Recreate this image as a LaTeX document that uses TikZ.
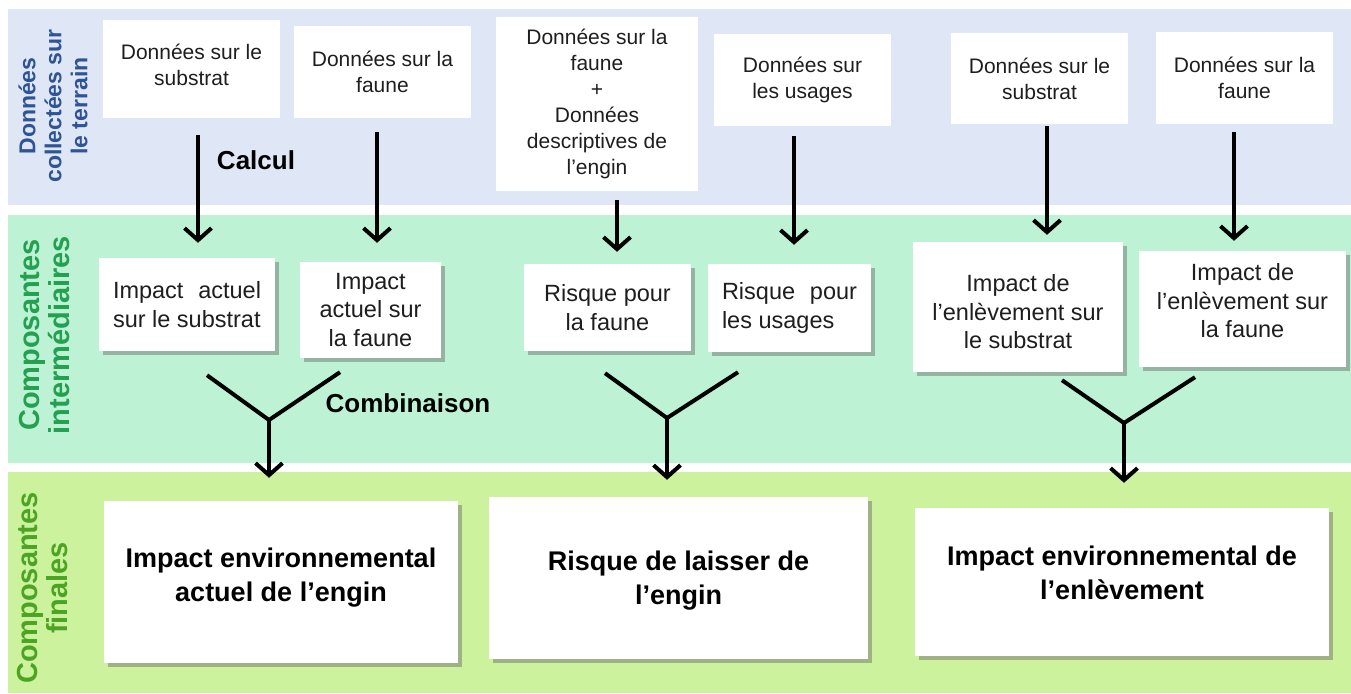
\documentclass[tikz,border=0pt]{standalone}
\usepackage{fontspec}
\setmainfont{Liberation Sans}
\usetikzlibrary{arrows.meta,shadows,calc}
\definecolor{bandA}{RGB}{223,230,245}
\definecolor{bandB}{RGB}{189,243,212}
\definecolor{bandC}{RGB}{205,242,157}
\definecolor{labA}{RGB}{47,84,150}
\definecolor{labB}{RGB}{35,160,80}
\definecolor{labC}{RGB}{75,165,35}
\definecolor{txt}{RGB}{30,30,30}
\begin{document}
\begin{tikzpicture}[x=1pt,y=-1pt,
  lab/.style={rotate=90, align=center, inner sep=0pt},
  topbox/.style={fill=white, inner sep=0pt, align=center, text=txt, font=\fontsize{21}{26}\selectfont},
  midbox/.style={fill=white, inner sep=0pt, align=center, text=txt, font=\fontsize{23.5}{28.5}\selectfont,
    drop shadow={shadow xshift=4pt, shadow yshift=-4pt, fill=black!60, opacity=0.45}},
  finbox/.style={fill=white, inner sep=0pt, align=center, text=black, font=\bfseries\fontsize{27}{34}\selectfont,
    drop shadow={shadow xshift=4pt, shadow yshift=-4pt, fill=black!60, opacity=0.45}},
  midtxt/.style={align=center, inner sep=0pt, text=txt, font=\fontsize{23.5}{28.5}\selectfont},
  fintxt/.style={align=center, inner sep=0pt, text=black, font=\bfseries\fontsize{27}{34}\selectfont},
  toptxt/.style={align=center, inner sep=0pt, text=txt, font=\fontsize{21}{26}\selectfont},
  arr/.style={line width=4pt, -{Straight Barb[length=12pt,width=27pt]}},
  yarm/.style={line width=4pt, line join=miter},
  note/.style={font=\bfseries\fontsize{26}{30}\selectfont, text=black, inner sep=0pt}
]
\useasboundingbox (0,0) rectangle (1351,693);
% bands
\fill[bandA] (8,9) rectangle (1351,205);
\fill[bandB] (8,215) rectangle (1351,463);
\fill[bandC] (8,472) rectangle (1351,693);
% side labels
\node[lab, text=labA, font=\bfseries\fontsize{23}{26}\selectfont] (L1) at (53,106) {Données\\collectées sur\\le terrain};
\node[lab, text=labB, font=\bfseries\fontsize{29}{30}\selectfont] (L2) at (45,335) {Composantes\\intermédiaires};
\node[lab, text=labC, font=\bfseries\fontsize{29}{30}\selectfont] (L3) at (43,588) {Composantes\\finales};
% top row
\node[topbox, minimum width=177, minimum height=98,
  label={[toptxt, yshift=4pt]center:{Données sur le\\substrat}}] (t1) at (191.5,69) {};
\node[topbox, minimum width=177, minimum height=92] (t2) at (382.5,72) {Données sur la\\faune};
\node[topbox, minimum width=202, minimum height=174] (t3) at (597,104) {Données sur la\\faune\\+\\Données\\descriptives de\\l’engin};
\node[topbox, minimum width=177, minimum height=92] (t4) at (802.5,80) {Données sur\\les usages};
\node[topbox, minimum width=177, minimum height=91] (t5) at (1039.5,78.5) {Données sur le\\substrat};
\node[topbox, minimum width=177, minimum height=92] (t6) at (1244.5,78) {Données sur la\\faune};
% middle row
\node[midbox, align=left, minimum width=176, minimum height=93] (m1) at (187,304.5) {\makebox[148pt][s]{Impact actuel}\\sur le substrat};
\node[midbox, minimum width=141, minimum height=96] (m2) at (370.5,310) {Impact\\actuel sur\\la faune};
\node[midbox, minimum width=167, minimum height=87] (m3) at (607.5,307.5) {Risque pour\\la faune};
\node[midbox, align=left, minimum width=163, minimum height=88] (m4) at (789.5,308) {\makebox[135pt][s]{Risque pour}\\les usages};
\node[midbox, minimum width=210, minimum height=130,
  label={[midtxt, yshift=-5pt]center:{Impact de\\l’enlèvement sur\\le substrat}}] (m5) at (1018,307) {};
\node[midbox, minimum width=207, minimum height=116,
  label={[midtxt, yshift=8pt]center:{Impact de\\l’enlèvement sur\\la faune}}] (m6) at (1242.5,309) {};
% final row
\node[finbox, minimum width=354, minimum height=162,
  label={[fintxt, yshift=4pt]center:{Impact environnemental\\actuel de l’engin}}] (b1) at (281,582) {};
\node[finbox, minimum width=379, minimum height=162,
  label={[fintxt, yshift=-3pt]center:{Risque de laisser de\\l’engin}}] (b2) at (678.5,578) {};
\node[finbox, minimum width=414, minimum height=148,
  label={[fintxt, yshift=9pt]center:{Impact environnemental de\\l’enlèvement}}] (b3) at (1122,582) {};
% notes
\node[note] (calc) at (256,160) {Calcul};
\node[note] (comb) at (408,403) {Combinaison};
% arrows top -> middle
\draw[arr, shorten <=17pt, shorten >=15pt] ([xshift=6.5pt]t1.south) -- ([xshift=11pt]m1.north);
\draw[arr, shorten <=14pt, shorten >=19pt] ([xshift=-5.5pt]t2.south) -- ([xshift=6.5pt]m2.north);
\draw[arr, shorten <=9pt, shorten >=12pt] ([xshift=20pt]t3.south) -- ([xshift=9.5pt]m3.north);
\draw[arr, shorten <=10pt, shorten >=19pt] ([xshift=-8.5pt]t4.south) -- ([xshift=4.5pt]m4.north);
\draw[arr, shorten <=2pt, shorten >=7pt] ([xshift=7.5pt]t5.south) -- ([xshift=29pt]m5.north);
\draw[arr, shorten <=8pt, shorten >=10pt] ([xshift=-10.5pt]t6.south) -- ([xshift=-8.5pt]m6.north);
% combiners
\coordinate (J1) at (269,420);
\coordinate (J2) at (667,418);
\coordinate (J3) at (1124,423);
\draw[yarm] ([xshift=20pt,yshift=-24pt]m1.south) -- (J1) -- ([xshift=-30.5pt,yshift=-14pt]m2.south);
\draw[yarm] ([xshift=-2.5pt,yshift=-22pt]m3.south) -- (J2) -- ([xshift=-51.5pt,yshift=-20pt]m4.south);
\draw[yarm] ([xshift=44pt,yshift=-8pt]m5.south) -- (J3) -- ([xshift=-47.5pt,yshift=-10pt]m6.south);
\draw[arr, shorten >=23pt] ([yshift=2pt]J1) -- (J1 |- b1.north);
\draw[arr, shorten >=17pt] ([yshift=2pt]J2) -- (J2 |- b2.north);
\draw[arr, shorten >=25pt] ([yshift=2pt]J3) -- (J3 |- b3.north);
\end{tikzpicture}
\end{document}
